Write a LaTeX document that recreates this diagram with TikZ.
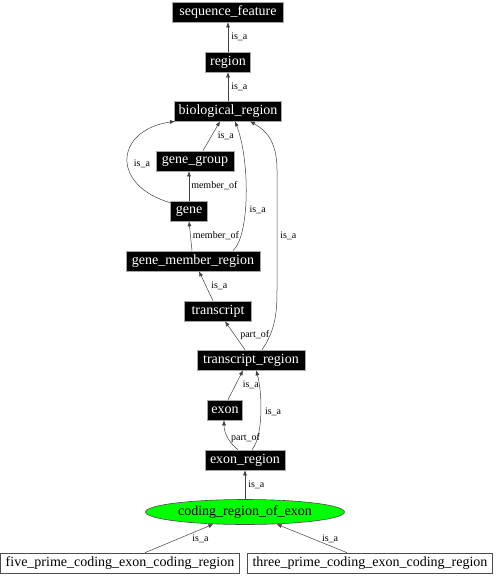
\documentclass[tikz,border=0pt]{standalone}
\usepackage{fontspec}
\setmainfont{Liberation Serif}
\usetikzlibrary{arrows.meta,shapes.geometric}
\tikzset{
  blk/.style={fill=black, text=white, draw=gray!70, line width=0.6pt, inner xsep=4pt, inner ysep=0pt, minimum height=20pt, font=\fontsize{14}{16}\selectfont},
  wht/.style={fill=white, text=black, draw=gray!60!black, line width=0.6pt, inner xsep=5pt, inner ysep=0pt, minimum height=20pt, font=\fontsize{14}{16}\selectfont},
  grn/.style={ellipse, fill=green, text=black, draw=gray!60!black, line width=0.6pt, inner sep=0pt, minimum width=199pt, minimum height=25pt, font=\fontsize{14}{16}\selectfont},
  conn/.style={draw=black!75, line width=0.5pt, -{Latex[length=5pt,width=4pt]}},
  lbl/.style={font=\fontsize{10}{11}\selectfont, inner sep=0pt, text=black}
}
\begin{document}
\begin{tikzpicture}[x=1pt,y=-1pt]
\useasboundingbox (0,0) rectangle (496,576);
\node[blk, minimum width=111pt] (sf)  at (228,12)  {sequence\_feature};
\node[blk, minimum width=45pt] (reg) at (228,62)  {region};
\node[blk, minimum width=107pt] (bio) at (228,111) {biological\_region};
\node[blk, minimum width=78pt] (gg)  at (195,161) {gene\_group};
\node[blk, minimum width=37pt] (gene) at (189,211) {gene};
\node[blk, minimum width=134pt] (gmr) at (193,261) {gene\_member\_region};
\node[blk, minimum width=67pt] (tx)  at (218,311) {transcript};
\node[blk, minimum width=108pt] (tr)  at (251,360) {transcript\_region};
\node[blk, minimum width=35pt] (ex)  at (225,410) {exon};
\node[blk, minimum width=80pt] (er)  at (245,460) {exon\_region};
\node[grn] (cre) at (245,512) {coding\_region\_of\_exon};
\node[wht] (five) at (120,563) {five\_prime\_coding\_exon\_coding\_region};
\node[wht] (three) at (370,563) {three\_prime\_coding\_exon\_coding\_region};

\draw[conn] (reg.north) -- node[lbl, anchor=west, xshift=3pt] (l1) {is\_a} (sf.south);
\draw[conn] (bio.north) -- node[lbl, anchor=west, xshift=3pt] (l2) {is\_a} (reg.south);
\draw[conn] ([xshift=8pt]gg.north) -- node[lbl, anchor=west, xshift=6pt] (l3) {is\_a} ([xshift=-8pt]bio.south);
\draw[conn] ([yshift=-2pt]gene.north west) .. controls (110,185) and (115,130) .. node[lbl, anchor=west, xshift=6pt, pos=0.45] (l4) {is\_a} ([xshift=-53pt]bio.south);
\draw[conn] (gene.north) -- node[lbl, anchor=west, xshift=2pt] (l5) {member\_of} (gene.north |- gg.south);
\draw[conn] ([xshift=-1pt]gmr.north) -- node[lbl, anchor=west, xshift=2pt] (l6) {member\_of} (gene.south);
\draw[conn] ([xshift=40pt]gmr.north) .. controls (250,235) and (250,160) .. node[lbl, anchor=west, xshift=4pt, pos=0.4] (l7) {is\_a} ([xshift=7pt]bio.south);
\draw[conn] ([xshift=-5pt]tx.north) -- node[lbl, anchor=west, xshift=5pt] (l8) {is\_a} ([xshift=6pt]gmr.south);
\draw[conn] ([xshift=-6pt]tr.north) -- node[lbl, anchor=west, xshift=5pt] (l9) {part\_of} ([xshift=7pt]tx.south);
\draw[conn] ([xshift=11pt]tr.north) .. controls (276,330) and (277,310) .. (277,290) -- node[lbl, anchor=west, xshift=3pt, pos=0.45] (l10) {is\_a} (277,170) .. controls (277,140) and (265,130) .. ([xshift=22pt]bio.south);
\draw[conn] ([xshift=3pt]ex.north) -- node[lbl, anchor=west, xshift=7pt] (l11) {is\_a} ([xshift=-8pt]tr.south);
\draw[conn] ([xshift=7pt]er.north) .. controls (264,435) and (262,390) .. node[lbl, anchor=west, xshift=4pt] (l12) {is\_a} ([xshift=5pt]tr.south);
\draw[conn] ([xshift=-7pt]er.north) .. controls (226,440) and (224,430) .. node[lbl, anchor=west, xshift=3pt, pos=0.4] (l13) {part\_of} ([xshift=-1pt]ex.south);
\draw[conn] (cre.north) -- node[lbl, anchor=west, xshift=3pt] (l14) {is\_a} (er.south);
\draw[conn] ([xshift=25pt]five.north) -- node[lbl, anchor=west, xshift=13pt] (l15) {is\_a} (cre.201);
\draw[conn] ([xshift=-23pt]three.north) -- node[lbl, anchor=west, xshift=10pt] (l16) {is\_a} (cre.339);
\end{tikzpicture}
\end{document}
